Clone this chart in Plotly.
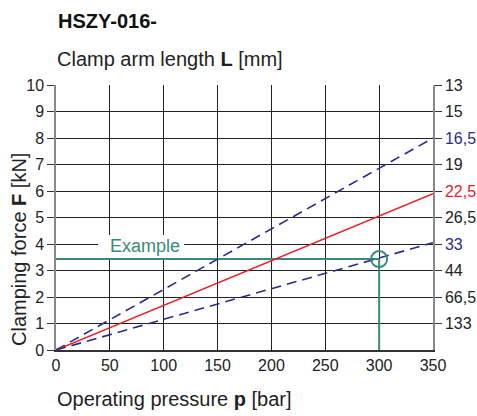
import plotly.graph_objects as go

# Data
pressure = [0, 350]
force_16_5 = [0, 8.0]
force_22_5 = [0, 5.9]
force_33 = [0, 4.05]

example_p = 300
example_f = 3.43

left_ticks = [0, 1, 2, 3, 4, 5, 6, 7, 8, 9, 10]
right_tickvals = [1, 2, 3, 4, 5, 6, 7, 8, 9, 10]
right_ticklabels = ["133", "66,5", "44", "33", "26,5", "22,5", "19", "16,5", "15", "13"]
right_label_colors = ["#222", "#222", "#222", "#2b2b8c", "#222", "#e8202a", "#222", "#2b2b8c", "#222", "#222"]
x_ticks = [0, 50, 100, 150, 200, 250, 300, 350]

BLUE = "#2b2b8c"
RED = "#e8202a"
TEAL = "#3a8a78"
FONT = "Arial, Liberation Sans, sans-serif"

L, R, T, B = 56, 44, 85, 66
W = 477 - L - R
H = 416 - T - B

fig = go.Figure()

# example lines
fig.add_trace(go.Scatter(x=[0, example_p], y=[example_f, example_f], mode="lines",
                         line=dict(color=TEAL, width=2), hoverinfo="skip", showlegend=False))
fig.add_trace(go.Scatter(x=[example_p, example_p], y=[example_f, 0], mode="lines",
                         line=dict(color=TEAL, width=2), hoverinfo="skip", showlegend=False))

fig.add_trace(go.Scatter(x=pressure, y=force_16_5, mode="lines",
                         line=dict(color=BLUE, width=1.6, dash="10px,6px"), showlegend=False))
fig.add_trace(go.Scatter(x=pressure, y=force_22_5, mode="lines",
                         line=dict(color=RED, width=1.6), showlegend=False))
fig.add_trace(go.Scatter(x=pressure, y=force_33, mode="lines",
                         line=dict(color=BLUE, width=1.6, dash="10px,6px"), showlegend=False))

fig.add_trace(go.Scatter(x=[example_p], y=[example_f], mode="markers",
                         marker=dict(symbol="circle-open", size=16, color=TEAL, line=dict(width=2)),
                         showlegend=False))

# dummy for right axis
fig.add_trace(go.Scatter(x=[0], y=[0], yaxis="y2", mode="markers",
                         marker=dict(opacity=0), hoverinfo="skip", showlegend=False))

fig.update_layout(
    width=477, height=416,
    margin=dict(l=L, r=R, t=T, b=B),
    paper_bgcolor="white", plot_bgcolor="white",
    font=dict(family=FONT, size=16, color="#222"),
    xaxis=dict(range=[0, 350], tickvals=x_ticks, showgrid=True, gridcolor="#222", gridwidth=1,
               showline=True, linecolor="#333", linewidth=1.5, ticks="", zeroline=False,
               tickfont=dict(size=16), automargin=False, fixedrange=True),
    yaxis=dict(range=[0, 10], tickvals=left_ticks, showgrid=True, gridcolor="#222", gridwidth=1,
               showline=True, linecolor="#888", linewidth=1.5, ticks="outside", ticklen=7,
               tickcolor="#333", zeroline=False, tickfont=dict(size=16), automargin=False,
               fixedrange=True),
    yaxis2=dict(range=[0, 10], overlaying="y", side="right", tickvals=right_tickvals,
                ticktext=[f"<span style='color:{c}'>{t}</span>" for t, c in zip(right_ticklabels, right_label_colors)],
                showgrid=False, showline=True, linecolor="#888", linewidth=1.5, ticks="outside",
                ticklen=7, tickcolor="#333", zeroline=False, tickfont=dict(size=16),
                automargin=False, fixedrange=True),
    showlegend=False,
)

# white box behind the "Example" label (covers gridlines, below traces)
fig.add_shape(type="rect", xref="x", yref="y", x0=39, x1=119, y0=3.47, y1=4.34,
              fillcolor="white", line=dict(width=0), layer="between")


def px_to_paper(px, py):
    return (px - L) / W, (416 - B - py) / H


fig.add_annotation(x=82.5, y=3.93, xref="x", yref="y", text="Example", showarrow=False,
                   font=dict(color=TEAL, size=18, family=FONT))
x0, y0 = px_to_paper(56, 21)
fig.add_annotation(x=x0, y=y0, xref="paper", yref="paper", xanchor="left", yanchor="middle",
                   text="<b>HSZY-016-</b>", showarrow=False, font=dict(size=20, color="#111"))
x0, y0 = px_to_paper(55, 59)
fig.add_annotation(x=x0, y=y0, xref="paper", yref="paper", xanchor="left", yanchor="middle",
                   text="Clamp arm length <b>L</b> [mm]", showarrow=False, font=dict(size=20, color="#222"))
x0, y0 = px_to_paper(55, 399)
fig.add_annotation(x=x0, y=y0, xref="paper", yref="paper", xanchor="left", yanchor="middle",
                   text="Operating pressure <b>p</b> [bar]", showarrow=False, font=dict(size=20, color="#222"))
x0, y0 = px_to_paper(19, 250)
fig.add_annotation(x=x0, y=y0, xref="paper", yref="paper", xanchor="center", yanchor="middle",
                   text="Clamping force <b>F</b> [kN]", textangle=-90, showarrow=False,
                   font=dict(size=20, color="#222"))

fig.write_html("out.html", config={"displayModeBar": False},
               post_script="document.body.style.margin='0';")
